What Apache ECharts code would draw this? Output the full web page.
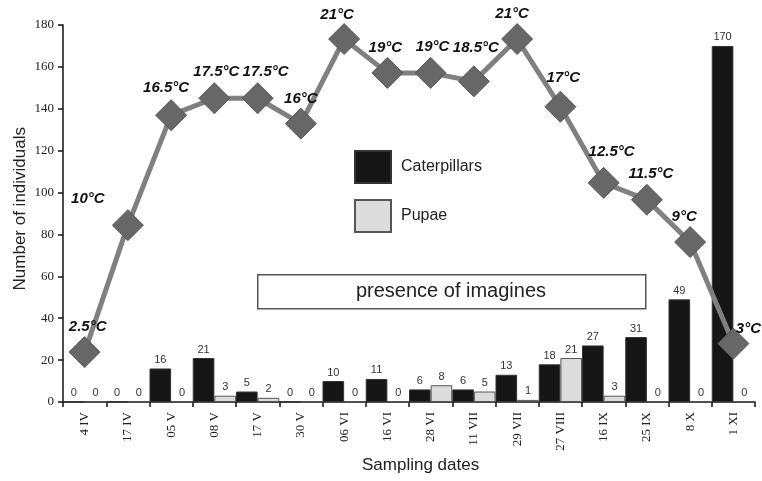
<!DOCTYPE html>
<html>
<head>
<meta charset="utf-8">
<script src="https://cdn.jsdelivr.net/npm/echarts@6/dist/echarts.min.js"></script>
<style>html,body{margin:0;padding:0;background:#fff;}#c{width:762px;height:481px;}</style>
</head>
<body>
<div id="c"></div>
<script>
var categories = ['4 IV','17 IV','05 V','08 V','17 V','30 V','06 VI','16 VI','28 VI','11 VII','29 VII','27 VIII','16 IX','25 IX','8 X','1 XI'];
var caterpillars = [0,0,16,21,5,0,10,11,6,6,13,18,27,31,49,170];
var pupae = [0,0,0,3,2,0,0,0,8,5,1,21,3,0,0,0];
var temperature = [2.5,10,16.5,17.5,17.5,16,21,19,19,18.5,21,17,12.5,11.5,9,3];
var yTicks = [0,20,40,60,80,100,120,140,160,180];

var labelOffsets = [[3,-25],[-40,-26],[-5,-27],[2,-26],[8,-26],[0,-25],[-7,-24],[-2,-25],[2,-26],[2,-33],[-5,-25],[3,-29],[8,-31],[4,-26],[-6,-25],[15,-15]];

var tempData = temperature.map(function(t, i){
  return {value: t, label: {offset: labelOffsets[i]}};
});

var chart = echarts.init(document.getElementById('c'));
chart.setOption({
  animation: false,
  backgroundColor: '#fff',
  grid: {left: 63, right: 7, top: 25, bottom: 79, containLabel: false},
  legend: {
    data: ['Caterpillars','Pupae'],
    orient: 'vertical',
    left: 349, top: 145,
    itemWidth: 36, itemHeight: 32, itemGap: 15,
    icon: 'rect',
    textStyle: {fontFamily: 'Liberation Sans, Arial', fontSize: 16, color: '#222', padding: [0,0,0,5]}
  },
  xAxis: {
    type: 'category',
    data: categories,
    axisLine: {lineStyle: {color: '#111', width: 1.5}},
    axisTick: {show: true, alignWithLabel: false, length: 5, lineStyle: {color: '#111', width: 1.5}},
    axisLabel: {rotate: 90, margin: 10, fontFamily: 'Liberation Serif, Times New Roman', fontSize: 13, color: '#222', interval: 0},
    splitLine: {show: false}
  },
  yAxis: [{
    type: 'value', min: 0, max: 180, interval: 20,
    axisLine: {show: true, lineStyle: {color: '#111', width: 1.5}},
    axisTick: {show: true, length: 5, lineStyle: {color: '#111', width: 1.5}},
    axisLabel: {margin: 9, fontFamily: 'Liberation Serif, Times New Roman', fontSize: 13, color: '#222',
      formatter: function(v){ return yTicks.indexOf(v) >= 0 ? String(v) : ''; }},
    splitLine: {show: false}
  }, {
    type: 'value', min: -0.45, max: 21.83, show: false,
    splitLine: {show: false}
  }],
  series: [{
    name: 'Caterpillars', type: 'bar', data: caterpillars,
    barGap: '0%', barCategoryGap: '0%',
    itemStyle: {color: '#161616', borderColor: '#333', borderWidth: 1},
    label: {show: true, position: 'top', distance: 3, fontFamily: 'Liberation Sans, Arial', fontSize: 11, color: '#333'}
  }, {
    name: 'Pupae', type: 'bar', data: pupae,
    itemStyle: {color: '#dcdcdc', borderColor: '#555', borderWidth: 1},
    label: {show: true, position: 'top', distance: 3, fontFamily: 'Liberation Sans, Arial', fontSize: 11, color: '#333'}
  }, {
    name: 'Temperature', type: 'line', yAxisIndex: 1, data: tempData,
    lineStyle: {color: '#808080', width: 5},
    symbol: 'diamond', symbolSize: 31,
    itemStyle: {color: '#676767', borderColor: '#5a5a5a', borderWidth: 1},
    z: 5,
    label: {show: true, position: 'inside', fontFamily: 'Liberation Sans, Arial', fontSize: 15, fontWeight: 'bold', fontStyle: 'italic', color: '#111',
      formatter: function(p){ return p.value + '°C'; }}
  }],
  graphic: [{
    type: 'rect', left: 257, top: 274, shape: {width: 388, height: 34},
    style: {fill: '#fff', stroke: '#555', lineWidth: 1.5}, z: 1
  }, {
    type: 'text', x: 451, y: 291, style: {text: 'presence of imagines', textAlign: 'center', textVerticalAlign: 'middle', font: '20px "Liberation Sans", Arial', fill: '#222'}, z: 2
  }, {
    type: 'text', left: 362, top: 457, style: {text: 'Sampling dates', font: '17px "Liberation Sans", Arial', fill: '#222'}
  }, {
    type: 'text', left: 12, top: 127, rotation: Math.PI/2, style: {text: 'Number of individuals', font: '17px "Liberation Sans", Arial', fill: '#222'}
  }]
});
</script>
</body>
</html>
